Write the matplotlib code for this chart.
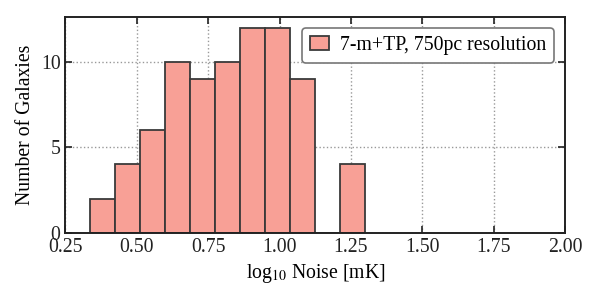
import matplotlib
matplotlib.use("Agg")
import matplotlib.pyplot as plt

plt.rcParams["font.family"] = ["Liberation Serif", "DejaVu Serif"]
plt.rcParams["mathtext.fontset"] = "stix"

# histogram of log10 noise, 750pc resolution
bin_edges = [0.337, 0.425, 0.512, 0.600, 0.687, 0.775, 0.862, 0.950,
             1.037, 1.125, 1.212, 1.300]
counts = [2, 4, 6, 10, 9, 10, 12, 12, 9, 0, 4]
xticks = [0.25, 0.50, 0.75, 1.00, 1.25, 1.50, 1.75, 2.00]
yticks = [0, 5, 10]

FACE = "#f8a096"
EDGE = "#3a3a3a"
FS = 14.2

fig = plt.figure(figsize=(6, 3), dpi=100)
ax = fig.add_axes([0.109, 0.224, 0.833, 0.718])

ax.hist(bin_edges[:-1], bins=bin_edges, weights=counts, color=FACE,
        edgecolor=EDGE, linewidth=1.3, label="7-m+TP, 750pc resolution",
        zorder=2)

ax.set_xlim(0.25, 2.0)
ax.set_ylim(0, 12.6)
ax.set_xticks(xticks)
ax.set_xticklabels([f"{t:.2f}" for t in xticks])
ax.set_yticks(yticks)
ax.grid(color="#999999", linestyle=":", linewidth=1.0, zorder=0)
ax.tick_params(direction="in", top=True, right=True, length=5, width=1.2,
               labelsize=FS, colors="#222222")
for s in ax.spines.values():
    s.set_linewidth(1.4)
    s.set_color("#222222")

ax.set_xlabel(r"log$_{10}$ Noise [mK]", fontsize=FS)
ax.set_ylabel("Number of Galaxies", fontsize=FS)

leg = ax.legend(loc="upper right", fontsize=FS, fancybox=True, framealpha=1,
                edgecolor="#777777", handlelength=1.0, handletextpad=0.55,
                borderaxespad=0.55)
leg.get_frame().set_linewidth(1.2)

fig.savefig("out.png", dpi=100)
